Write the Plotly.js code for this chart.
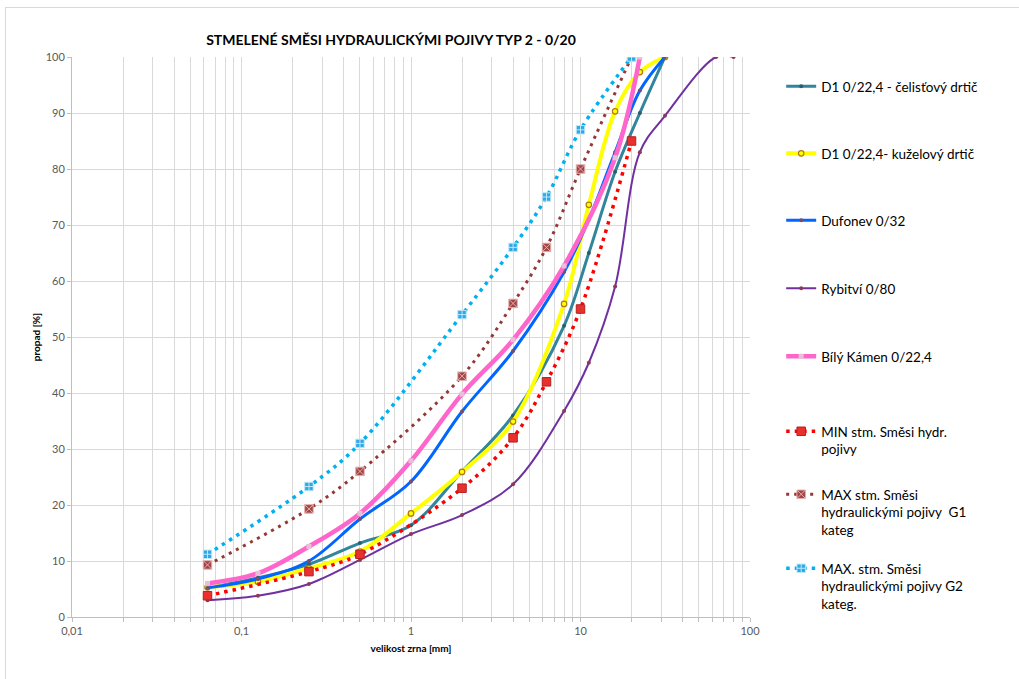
<!DOCTYPE html>
<html>
<head>
<meta charset="utf-8">
<script src="https://cdn.plot.ly/plotly-3.0.1.min.js"></script>
<style>
  html, body { margin: 0; padding: 0; background: #ffffff; }
  #frame { position: absolute; left: 5px; top: 7px; width: 1100px; height: 800px; border: 1px solid #d9d9d9; box-sizing: border-box; }
  #chart { position: absolute; left: 0; top: 0; width: 1019px; height: 679px; }
</style>
</head>
<body>
<div id="frame"></div>
<div id="chart"></div>
<script>
// ---- data (síta v mm, propad v %) ----
const sitaD1 = [0.063, 0.125, 0.25, 0.5, 1, 2, 4, 8, 11.2, 16, 22.4, 31.5];
const celistovy = [5.2, 7.0, 9.4, 13.2, 16.4, 26.0, 36.0, 52.0, 65.0, 79.5, 90.0, 100];
const kuzelovy = [5.3, 6.3, 8.7, 11.7, 18.5, 25.9, 34.9, 55.9, 73.6, 90.3, 97.3, 100];
const dufonev = [5.2, 6.8, 10.0, 17.5, 24.2, 36.7, 47.5, 61.6, 71.0, 83.0, 94.0, 100];

const sitaRybitvi = [0.063, 0.125, 0.25, 0.5, 1, 2, 4, 8, 11.2, 16, 22.4, 31.5, 63, 80];
const rybitvi = [3.0, 3.8, 5.9, 10.2, 14.8, 18.2, 23.7, 36.8, 45.4, 59.0, 83.0, 89.5, 100, 100];

const sitaBK = [0.063, 0.125, 0.25, 0.5, 1, 2, 4, 8, 16, 22.4];
const bilyKamen = [6.0, 7.8, 12.6, 18.5, 27.9, 39.8, 49.5, 62.7, 82.0, 100];

const sitaObalky = [0.063, 0.25, 0.5, 2, 4, 6.3, 10, 20];
const minHydr = [3.8, 8.1, 11.2, 23.0, 32.0, 42.0, 55.0, 85.0];
const maxG1 = [9.3, 19.3, 26.0, 43.0, 56.0, 66.0, 80.0, 100];
const maxG2 = [11.2, 23.3, 31.0, 54.0, 66.0, 75.0, 87.0, 100];

const seriesNames = [
  'D1 0/22,4 - čelisťový drtič',
  'D1 0/22,4- kuželový drtič',
  'Dufonev 0/32',
  'Rybitví 0/80',
  'Bílý Kámen 0/22,4',
  'MIN stm. Směsi hydr.<br>pojivy',
  'MAX stm. Směsi<br>hydraulickými pojivy  G1<br>kateg',
  'MAX. stm. Směsi<br>hydraulickými pojivy G2<br>kateg.'
];
const xTickLabels = ['0,01', '0,1', '1', '10', '100'];
const xDecades = [0.01, 0.1, 1, 10, 100];

// ---- styles ----
const FONT = 'Lato, "Open Sans", sans-serif';
const legendCenters = [83, 150, 217, 285, 353, 428, 491, 565]; // px of first text line

const xTickVals = [];
const xTickText = [];
for (let d = 0; d < xDecades.length; d++) {
  const base = xDecades[d];
  const maxK = d === xDecades.length - 1 ? 1 : 9;
  for (let k = 1; k <= maxK; k++) {
    xTickVals.push(base * k);
    xTickText.push(k === 1 ? xTickLabels[d] : '');
  }
}

function mk(i, x, y, line, marker) {
  return {
    type: 'scatter', mode: 'lines+markers', x: x, y: y,
    name: seriesNames[i],
    legend: i === 0 ? 'legend' : 'legend' + (i + 1),
    line: Object.assign({shape: 'spline', smoothing: 1}, line),
    marker: marker,
    hoverinfo: 'x+y+name'
  };
}

const traces = [
  mk(0, sitaD1, celistovy, {color: '#31859C', width: 3}, {size: 4, color: '#2b5f6b', symbol: 'circle'}),
  mk(1, sitaD1, kuzelovy, {color: '#FFFF00', width: 4}, {size: 5.5, color: '#FFFF00', symbol: 'circle', line: {color: '#B07A10', width: 1.2}}),
  mk(2, sitaD1, dufonev, {color: '#0066FF', width: 3}, {size: 4, color: '#7a4b6a', symbol: 'circle'}),
  mk(3, sitaRybitvi, rybitvi, {color: '#7030A0', width: 2}, {size: 4, color: '#8e3a55', symbol: 'circle'}),
  mk(4, sitaBK, bilyKamen, {color: '#FF66CC', width: 4.5}, {size: 5, color: '#e8c0d8', symbol: 'square'}),
  mk(5, sitaObalky, minHydr, {color: '#FF0000', width: 3.5, dash: '3.5px,5px'}, {size: 8.5, color: '#E8302F', symbol: 'square', line: {color: '#B42020', width: 1}}),
  mk(6, sitaObalky, maxG1, {color: '#953735', width: 3, dash: '3px,5px'}, {size: 8.5, color: '#A04543', symbol: 'square-x', line: {color: '#E3B0B0', width: 1}}),
  mk(7, sitaObalky, maxG2, {color: '#00B0F0', width: 3.5, dash: '3.5px,5px'}, {size: 8.5, color: '#2FA8E6', symbol: 'square-cross', line: {color: '#BFE8FA', width: 1}})
];

const plotLeft = 72, plotRight = 750, plotTop = 57, plotBottom = 617;
function legendCfg(i) {
  const top = legendCenters[i] - 12;
  return {
    x: 1.046, xanchor: 'left',
    y: (plotBottom - top) / (plotBottom - plotTop), yanchor: 'top',
    valign: 'top',
    bgcolor: 'rgba(0,0,0,0)', borderwidth: 0,
    font: {family: FONT, size: 13.5, color: '#000000'},
    itemwidth: 30
  };
}

const layout = {
  width: 1019, height: 679,
  margin: {l: plotLeft, r: 1019 - plotRight, t: plotTop, b: 679 - plotBottom},
  paper_bgcolor: 'rgba(0,0,0,0)',
  plot_bgcolor: '#ffffff',
  font: {family: FONT, color: '#595959'},
  title: {
    text: '<b>STMELENÉ SMĚSI HYDRAULICKÝMI POJIVY TYP 2 - 0/20</b>',
    font: {family: FONT, size: 14, color: '#000000'},
    x: (391 - plotLeft) / (plotRight - plotLeft), xanchor: 'center', xref: 'paper',
    y: 1 - 40 / 679, yanchor: 'middle', yref: 'container'
  },
  xaxis: {
    type: 'log', range: [-2, 2],
    tickvals: xTickVals, ticktext: xTickText,
    tickfont: {family: FONT, size: 11, color: '#595959'},
    showgrid: true, gridcolor: '#d9d9d9', gridwidth: 1,
    showline: true, linecolor: '#bfbfbf', linewidth: 1,
    ticks: 'outside', ticklen: 4, tickcolor: '#bfbfbf',
    zeroline: false,
    title: {text: '<b>velikost zrna [mm]</b>', font: {family: FONT, size: 10, color: '#000000'}, standoff: 8}
  },
  yaxis: {
    range: [0, 100], dtick: 10, tick0: 0,
    tickfont: {family: FONT, size: 11, color: '#595959'},
    showgrid: true, gridcolor: '#d9d9d9', gridwidth: 1,
    showline: true, linecolor: '#bfbfbf', linewidth: 1,
    ticks: 'outside', ticklen: 4, tickcolor: '#bfbfbf',
    zeroline: false,
    title: {text: '<b>propad [%]</b>', font: {family: FONT, size: 10, color: '#000000'}, standoff: 3}
  },
  showlegend: true
};
for (let i = 0; i < seriesNames.length; i++) {
  layout[i === 0 ? 'legend' : 'legend' + (i + 1)] = legendCfg(i);
}

Plotly.newPlot('chart', traces, layout, {displayModeBar: false, responsive: false});
</script>
</body>
</html>
